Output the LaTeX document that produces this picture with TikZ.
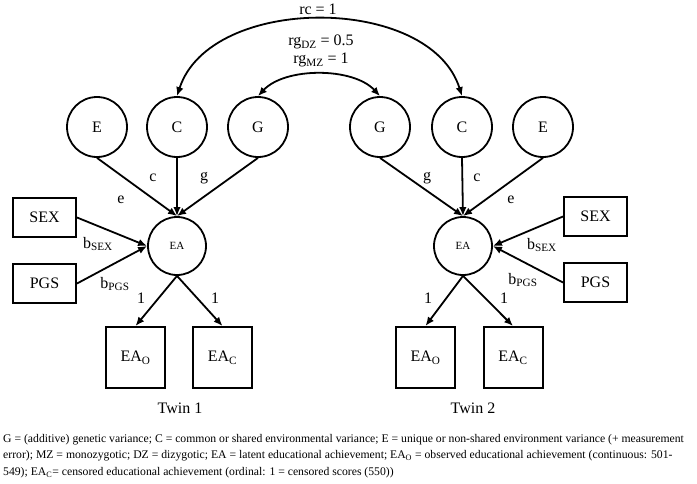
\documentclass[tikz,border=0pt]{standalone}
\usepackage{fontspec}
\setmainfont{Liberation Serif}
\usetikzlibrary{arrows.meta}

\tikzset{
  latent/.style={circle, draw, line width=1.8pt, minimum size=60pt, inner sep=0pt,
    font=\fontsize{16}{18}\selectfont},
  ealatent/.style={latent, minimum size=58pt, font=\fontsize{11}{13}\selectfont},
  observed/.style={rectangle, draw, line width=2pt, inner sep=0pt,
    font=\fontsize{16}{18}\selectfont},
  covbox/.style={observed, minimum width=63pt, minimum height=39pt},
  indbox/.style={observed, minimum width=59pt, minimum height=61pt},
  regpath/.style={-{Latex[length=9pt,width=7.5pt]}, line width=1.8pt},
  corpath/.style={{Latex[length=9pt,width=7.5pt]}-{Latex[length=9pt,width=7.5pt]}, line width=1.8pt},
  lbl/.style={font=\fontsize{16}{18}\selectfont, inner sep=0pt},
}

\begin{document}
\begin{tikzpicture}[x=1pt,y=-1pt]
    \useasboundingbox (0,0) rectangle (697,483);

    % twin 1
    \node[latent] (E1) at (97,127) {E};
    \node[latent] (C1) at (177,127) {C};
    \node[latent] (G1) at (258,127) {G};
    \node[ealatent] (EA1) at (177,246) {EA};
    \node[covbox] (SEX1) at (44.5,217.5) {SEX};
    \node[covbox] (PGS1) at (44.5,283.5) {PGS};
    \node[indbox] (EAO1) at (135.5,357.5) {EA\textsubscript{O}};
    \node[indbox] (EAC1) at (222.5,357.5) {EA\textsubscript{C}};
    \node[lbl] (twin1) at (180,408) {Twin 1};

    % twin 2
    \node[latent] (G2) at (380,127) {G};
    \node[latent] (C2) at (462,127) {C};
    \node[latent] (E2) at (543,127) {E};
    \node[ealatent] (EA2) at (463,246) {EA};
    \node[covbox] (SEX2) at (595.5,216.5) {SEX};
    \node[covbox] (PGS2) at (595.5,282.5) {PGS};
    \node[indbox] (EAO2) at (425.5,357.5) {EA\textsubscript{O}};
    \node[indbox] (EAC2) at (513,357.5) {EA\textsubscript{C}};
    \node[lbl] (twin2) at (473,408) {Twin 2};

    \draw[regpath] (E1.south) -- (EA1.north);
    \draw[regpath] (C1.south) -- (EA1.north);
    \draw[regpath] (G1.south) -- (EA1.north);
    \draw[regpath] (SEX1.east) -- (EA1.west);
    \draw[regpath] (PGS1.east) -- (EA1.west);
    \draw[regpath] (EA1.south) -- (EAO1.north);
    \draw[regpath] (EA1.south) -- (EAC1.north);

    \draw[regpath] (E2.south) -- (EA2.north);
    \draw[regpath] (C2.south) -- (EA2.north);
    \draw[regpath] (G2.south) -- (EA2.north);
    \draw[regpath] (SEX2.west) -- (EA2.east);
    \draw[regpath] (PGS2.west) -- (EA2.east);
    \draw[regpath] (EA2.south) -- (EAO2.north);
    \draw[regpath] (EA2.south) -- (EAC2.north);

    \draw[corpath] (C1.north) .. controls (210,-6) and (430,-6) .. (C2.north);
    \draw[corpath] (G1.north) .. controls (285,67) and (353,67) .. (G2.north);

    \node[lbl] (rc) at (318,9) {rc = 1};
    \node[lbl] (rgdz) at (321,42) {rg\textsubscript{DZ} = 0.5};
    \node[lbl] (rgmz) at (321,60) {rg\textsubscript{MZ} = 1};

    \node[lbl] (e1) at (121,200) {e};
    \node[lbl] (c1) at (153,178) {c};
    \node[lbl] (g1) at (204,178) {g};
    \node[lbl] (bsex1) at (98,244) {b\textsubscript{SEX}};
    \node[lbl] (bpgs1) at (115,284) {b\textsubscript{PGS}};
    \node[lbl] (o1) at (141,298) {1};
    \node[lbl] (p1) at (215,298) {1};

    \node[lbl] (g2) at (427,178) {g};
    \node[lbl] (c2) at (477,178) {c};
    \node[lbl] (e2) at (511,200) {e};
    \node[lbl] (bsex2) at (542,245) {b\textsubscript{SEX}};
    \node[lbl] (bpgs2) at (523,280) {b\textsubscript{PGS}};
    \node[lbl] (o2) at (428,298) {1};
    \node[lbl] (p2) at (504,298) {1};

    \node[anchor=north west, align=left, inner sep=0pt,
      font=\fontsize{11.7}{16.5}\selectfont] (note) at (3,434) {%
      G = (additive) genetic variance; C = common or shared environmental variance; E = unique or non-shared environment variance (+ measurement\\
      error); MZ = monozygotic; DZ = dizygotic; EA = latent educational achievement; EA\textsubscript{O} = observed educational achievement (continuous: 501-\\
      549); EA\textsubscript{C}= censored educational achievement (ordinal: 1 = censored scores (550))};
  \end{tikzpicture}
\end{document}
